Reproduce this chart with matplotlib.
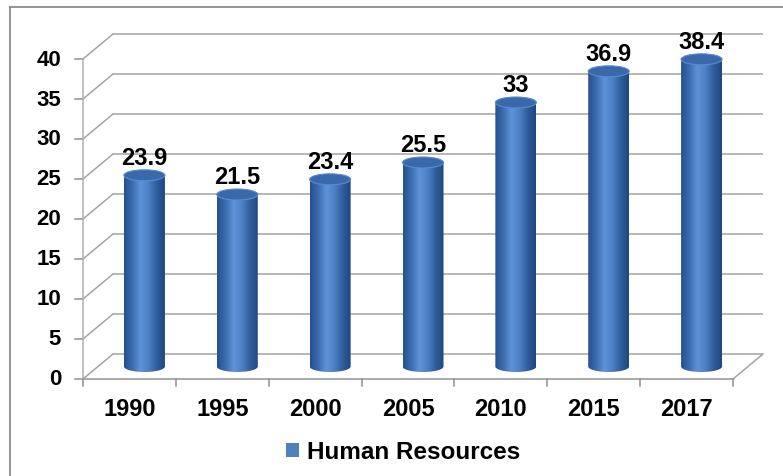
import numpy as np
import matplotlib.pyplot as plt
from matplotlib.patches import Ellipse, PathPatch, Patch
from matplotlib.path import Path
from matplotlib.colors import LinearSegmentedColormap
from matplotlib.lines import Line2D

plt.rcParams["font.family"] = ["Liberation Sans", "DejaVu Sans"]
plt.rcParams["font.weight"] = "bold"

years = ["1990", "1995", "2000", "2005", "2010", "2015", "2017"]
values = [23.9, 21.5, 23.4, 25.5, 33, 36.9, 38.4]
y_ticks = [0, 5, 10, 15, 20, 25, 30, 35, 40]
series_name = "Human Resources"

W, H = 783, 477
fig = plt.figure(figsize=(W / 100, H / 100), dpi=100)
fig.patch.set_facecolor("white")

# one axes over the whole figure, category units on x, values on y
ax = fig.add_axes([0, 0, 1, 1])
px_x = 650 / 7.0          # pixels per category
px_y = 8.0                # pixels per value unit
x_left = -0.5 - 83 / px_x
ax.set_xlim(x_left, x_left + W / px_x)
ax.set_ylim(-(H - 380) / px_y, 380 / px_y)
ax.axis("off")

# depth of the 3-D box
ddx = 30 / px_x
ddy = 25 / px_y
x0, x1 = -0.5, len(years) - 0.5
grid_c = "#a3a3a3"

# back wall gridlines and the diagonals to the front axis
for v in y_ticks:
    ax.plot([x0 + ddx, x1 + ddx], [v + ddy, v + ddy], color=grid_c, lw=1.1,
            solid_capstyle="butt", zorder=1)
    ax.plot([x0, x0 + ddx], [v, v + ddy], color=grid_c, lw=1.1, zorder=1)
    ax.plot([x0 - 8 / px_x, x0], [v, v], color="#909090", lw=1.1, zorder=1)
    ax.text(x0 - 22 / px_x, v, str(v), ha="right", va="center", fontsize=16,
            fontweight="bold", color="black")

# front axis, floor edge and right floor diagonal
ax.plot([x0, x0], [0, y_ticks[-1]], color="#b0b0b0", lw=1.1, zorder=1)
ax.plot([x0, x1], [0, 0], color=grid_c, lw=1.3, zorder=1)
ax.plot([x1, x1 + ddx], [0, ddy], color=grid_c, lw=1.1, zorder=1)
for k in range(len(years) + 1):
    ax.plot([x0 + k, x0 + k], [0, -7 / px_y], color="#909090", lw=1.1, zorder=1)

for i, yr in enumerate(years):
    ax.text(i, -30 / px_y, yr, ha="center", va="center", fontsize=17,
            fontweight="bold", color="black")

# cylinders
body_cmap = LinearSegmentedColormap.from_list(
    "cyl", ["#24508c", "#3c6cb0", "#5f92d6", "#4d80c4", "#2f5d9c", "#1f477f"])
grad = np.linspace(0, 1, 256).reshape(1, -1)
bw = 41 / px_x
eh = 11 / px_y

for i, v in enumerate(values):
    cx = i + ddx / 2
    base = ddy / 2
    top = v + ddy / 2
    left, right = cx - bw / 2, cx + bw / 2

    t = np.linspace(np.pi, 2 * np.pi, 40)
    bottom_arc = np.column_stack([cx + bw / 2 * np.cos(t), base + eh / 2 * np.sin(t)])
    verts = np.vstack([[[left, top]], bottom_arc, [[right, top], [left, top]]])
    codes = [Path.MOVETO] + [Path.LINETO] * (len(verts) - 2) + [Path.CLOSEPOLY]
    clip = PathPatch(Path(verts, codes), facecolor="none", edgecolor="none")
    ax.add_patch(clip)

    img = ax.imshow(grad, cmap=body_cmap, aspect="auto", zorder=3,
                    extent=[left, right, base - eh / 2, top],
                    interpolation="bilinear")
    img.set_clip_path(clip)

    ax.add_patch(Ellipse((cx, top), bw, eh, facecolor="#3a69ab",
                         edgecolor="#5a8ad0", lw=0.8, zorder=4))

    ax.text(cx, top + eh / 2 + 1 / px_y, f"{v:g}", ha="center", va="bottom",
            fontsize=17, fontweight="bold", color="black", zorder=5)

# outer chart border (open on the right and bottom)
fig.add_artist(Line2D([9.5 / W, 9.5 / W], [0, 1 - 8 / H], color="#8c8c8c",
                      lw=1.3, transform=fig.transFigure))
fig.add_artist(Line2D([9.5 / W, 1], [1 - 8 / H, 1 - 8 / H], color="#8c8c8c",
                      lw=1.3, transform=fig.transFigure))

fig.legend(handles=[Patch(facecolor="#4f81bd", edgecolor="none")],
           labels=[series_name], loc="center",
           bbox_to_anchor=(403 / W, 1 - 453 / H), frameon=False,
           handlelength=0.55, handleheight=0.55, handletextpad=0.3,
           prop={"size": 17.5, "weight": "bold"})

fig.savefig("out.png", dpi=100, facecolor="white")
